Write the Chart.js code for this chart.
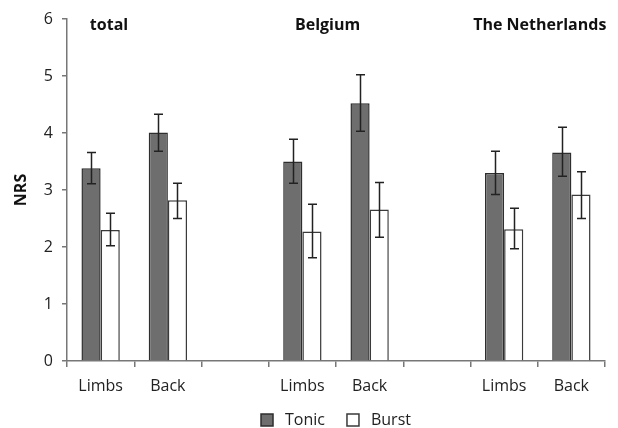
<!DOCTYPE html>
<html>
<head>
<meta charset="utf-8">
<script src="https://cdn.jsdelivr.net/npm/chart.js@4/dist/chart.umd.min.js"></script>
<style>
  html, body { margin: 0; padding: 0; background: #fff; }
  #wrap { width: 618px; height: 428px; }
</style>
</head>
<body>
<div id="wrap"><canvas id="nrsChart"></canvas></div>
<script>
// categories (empty slots separate the three groups)
const categories = ['Limbs', 'Back', '', 'Limbs', 'Back', '', 'Limbs', 'Back'];
const groupTitles = ['total', 'Belgium', 'The Netherlands'];

// mean NRS
const tonic = [3.38, 4.01, null, 3.50, 4.52, null, 3.30, 3.66];
const burst = [2.30, 2.82, null, 2.27, 2.66, null, 2.31, 2.92];

// error bar limits
const tonicLow  = [3.11, 3.68, null, 3.12, 4.03, null, 2.92, 3.24];
const tonicHigh = [3.66, 4.33, null, 3.89, 5.02, null, 3.68, 4.10];
const burstLow  = [2.02, 2.50, null, 1.81, 2.17, null, 1.97, 2.50];
const burstHigh = [2.59, 3.12, null, 2.75, 3.13, null, 2.68, 3.32];

const yTicks = [0, 1, 2, 3, 4, 5, 6];

const font = "'Open Sans', 'Liberation Sans', sans-serif";

// draws the whiskers on top of each bar
const errorBars = {
  id: 'errorBars',
  afterDatasetsDraw(chart) {
    const ctx = chart.ctx;
    const y = chart.scales.y;
    const limits = [[tonicLow, tonicHigh], [burstLow, burstHigh]];
    ctx.save();
    ctx.strokeStyle = '#222';
    ctx.lineWidth = 1.5;
    chart.data.datasets.forEach((ds, di) => {
      const meta = chart.getDatasetMeta(di);
      meta.data.forEach((bar, i) => {
        const lo = limits[di][0][i], hi = limits[di][1][i];
        if (lo == null || hi == null) return;
        const x = Math.round(bar.x) + 0.5;
        const yl = y.getPixelForValue(lo), yh = y.getPixelForValue(hi);
        ctx.beginPath();
        ctx.moveTo(x, yl); ctx.lineTo(x, yh);
        ctx.moveTo(x - 4.5, yl); ctx.lineTo(x + 4.5, yl);
        ctx.moveTo(x - 4.5, yh); ctx.lineTo(x + 4.5, yh);
        ctx.stroke();
      });
    });
    ctx.restore();
  }
};

// bold group titles at the top of the plot
const groupLabels = {
  id: 'groupLabels',
  afterDraw(chart, args, opts) {
    const ctx = chart.ctx;
    const x = chart.scales.x;
    ctx.save();
    ctx.font = 'bold 16px ' + font;
    ctx.fillStyle = '#111';
    ctx.textBaseline = 'middle';
    ctx.textAlign = 'left';
    groupTitles.forEach((t, i) => {
      ctx.fillText(t, x.getPixelForValue(opts.at[i]), chart.chartArea.top + 6);
    });
    ctx.restore();
  }
};

// legend centred under the plot area
const bottomLegend = {
  id: 'bottomLegend',
  afterDraw(chart) {
    const ctx = chart.ctx;
    const area = chart.chartArea;
    const box = 12, gap = 12, itemGap = 22;
    ctx.save();
    ctx.font = '16px ' + font;
    const items = chart.data.datasets.map(ds => ({ ds, w: ctx.measureText(ds.label).width }));
    let total = items.reduce((s, it) => s + box + gap + it.w, 0) + itemGap * (items.length - 1);
    let x = (area.left + area.right) / 2 - total / 2;
    const yc = chart.height - 8;
    ctx.textBaseline = 'middle';
    items.forEach(it => {
      ctx.fillStyle = it.ds.backgroundColor;
      ctx.strokeStyle = it.ds.borderColor;
      ctx.lineWidth = 1.5;
      ctx.fillRect(x, yc - box / 2, box, box);
      ctx.strokeRect(x, yc - box / 2, box, box);
      ctx.fillStyle = '#222';
      ctx.fillText(it.ds.label, x + box + gap, yc);
      x += box + gap + it.w + itemGap;
    });
    ctx.restore();
  }
};

new Chart(document.getElementById('nrsChart'), {
  type: 'bar',
  data: {
    labels: categories,
    datasets: [{
      label: 'Tonic',
      data: tonic,
      backgroundColor: '#6e6e6e',
      borderColor: '#2e2e2e',
      borderWidth: 1.5
    }, {
      label: 'Burst',
      data: burst,
      backgroundColor: '#ffffff',
      borderColor: '#3a3a3a',
      borderWidth: 1.5
    }]
  },
  options: {
    responsive: true,
    maintainAspectRatio: false,
    animation: false,
    layout: { padding: { top: 19, right: 13, left: 12, bottom: 27 } },
    categoryPercentage: 0.57,
    barPercentage: 1.0,
    scales: {
      x: {
        offset: true,
        grid: { display: true, offset: true, drawOnChartArea: false, drawTicks: true, tickLength: 6, color: '#777', lineWidth: 1.5 },
        border: { display: true, color: '#777', width: 1.5 },
        ticks: { color: '#222', font: { family: font, size: 16 }, padding: 10, maxRotation: 0, autoSkip: false },
        afterFit(scale) { scale.height = 40; }
      },
      y: {
        min: 0,
        max: 6,
        afterBuildTicks(scale) { scale.ticks = yTicks.map(v => ({ value: v })); },
        grid: { display: true, drawOnChartArea: false, drawTicks: true, tickLength: 5, color: '#777', lineWidth: 1.5 },
        border: { display: true, color: '#777', width: 1.5 },
        ticks: { color: '#222', font: { family: font, size: 16 }, padding: 9 },
        title: { display: true, text: 'NRS', color: '#111', font: { family: font, size: 16, weight: 'bold' }, padding: 0 },
        afterFit(scale) { scale.width = 55; }
      }
    },
    plugins: {
      legend: { display: false },
      tooltip: { enabled: false },
      groupLabels: { at: [-0.16, 2.89, 5.54] }
    }
  },
  plugins: [errorBars, groupLabels, bottomLegend]
});
</script>
</body>
</html>
